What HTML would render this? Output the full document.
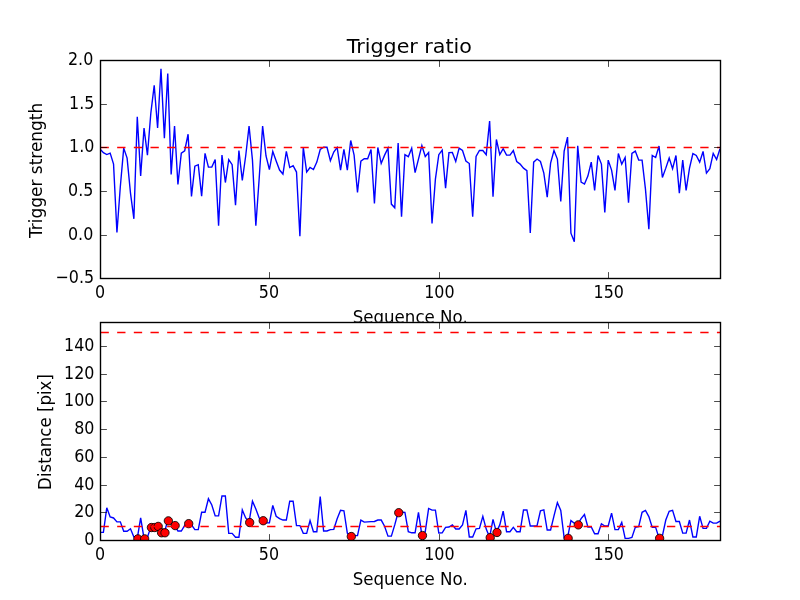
<!DOCTYPE html>
<html lang="en"><head><meta charset="utf-8"><title>Trigger ratio</title>
<style>html,body{margin:0;padding:0;background:#fff;}body{width:800px;height:600px;overflow:hidden;}svg{display:block;}text{font-family:"DejaVu Sans","Liberation Sans",sans-serif;fill:#000;}</style></head><body>
<svg width="800" height="600" viewBox="0 0 800 600">
<rect x="0" y="0" width="800" height="600" fill="#ffffff"/>
<defs><clipPath id="c1"><rect x="100" y="60" width="620" height="218.18"/></clipPath><clipPath id="c2"><rect x="100" y="321.82" width="620" height="218.18"/></clipPath></defs>
<g id="ax1">
<rect x="100" y="60" width="620" height="218.18" fill="#fff"/>
<g clip-path="url(#c1)">
<polyline points="100.00,149.02 103.39,152.68 106.78,154.52 110.16,153.12 113.55,164.12 116.94,232.54 120.33,186.54 123.72,148.14 127.10,158.09 130.49,193.09 133.88,218.84 137.27,116.73 140.66,176.07 144.04,128.07 147.43,155.13 150.82,113.24 154.21,85.31 157.60,128.07 160.98,68.73 164.37,138.11 167.76,73.53 171.15,174.50 174.54,126.06 177.92,184.54 181.31,153.12 184.70,150.76 188.09,134.18 191.48,196.49 194.86,166.12 198.25,164.73 201.64,196.14 205.03,153.38 208.42,167.08 211.80,167.08 215.19,159.49 218.58,225.82 221.97,155.13 225.36,182.53 228.74,159.66 232.13,164.73 235.52,205.13 238.91,150.50 242.30,180.44 245.68,156.00 249.07,126.06 252.46,160.10 255.85,225.82 259.23,177.82 262.62,126.06 266.01,156.00 269.40,169.53 272.79,151.46 276.17,161.06 279.56,170.05 282.95,174.06 286.34,151.46 289.73,167.52 293.11,165.69 296.50,172.06 299.89,236.11 303.28,147.27 306.67,172.06 310.05,167.52 313.44,169.53 316.83,162.11 320.22,149.45 323.61,147.27 326.99,147.27 330.38,160.71 333.77,152.07 337.16,147.45 340.55,170.05 343.93,149.45 347.32,170.05 350.71,140.46 354.10,155.13 357.49,192.48 360.87,161.06 364.26,158.70 367.65,158.70 371.04,149.45 374.43,203.48 377.81,147.45 381.20,163.50 384.59,155.13 387.98,148.14 391.37,204.09 394.75,207.75 398.14,143.08 401.53,216.74 404.92,154.69 408.31,156.70 411.69,148.14 415.08,172.67 418.47,159.05 421.86,145.53 425.25,156.52 428.63,152.51 432.02,223.55 435.41,179.13 438.80,154.69 442.19,150.06 445.57,188.12 448.96,152.68 452.35,152.51 455.74,161.50 459.13,148.14 462.51,150.50 465.90,161.06 469.29,163.50 472.68,216.74 476.07,156.52 479.45,150.50 482.84,150.50 486.23,154.69 489.62,121.09 493.01,196.76 496.39,139.50 499.78,154.69 503.17,148.67 506.56,155.13 509.95,155.13 513.33,150.50 516.72,161.50 520.11,164.12 523.50,168.13 526.89,170.66 530.27,233.06 533.66,162.11 537.05,159.05 540.44,161.50 543.83,173.10 547.21,197.10 550.60,163.07 553.99,150.50 557.38,159.05 560.77,201.56 564.15,151.11 567.54,137.06 570.93,233.15 574.32,241.79 577.70,145.70 581.09,182.18 584.48,184.10 587.87,176.07 591.26,162.11 594.64,190.47 598.03,155.48 601.42,164.12 604.81,212.55 608.20,160.10 611.58,170.05 614.97,190.47 618.36,153.47 621.75,164.12 625.14,157.48 628.52,202.69 631.91,153.47 635.30,151.11 638.69,160.10 642.08,160.10 645.46,189.16 648.85,229.13 652.24,155.48 655.63,157.48 659.02,146.05 662.40,177.47 665.79,168.13 669.18,158.09 672.57,168.65 675.96,155.48 679.34,193.09 682.73,160.10 686.12,190.47 689.51,168.13 692.90,153.64 696.28,155.48 699.67,162.11 703.06,151.46 706.45,173.10 709.84,168.65 713.22,153.47 716.61,159.49 720.00,148.67" fill="none" stroke="#0000ff" stroke-width="1.39" stroke-linejoin="miter" stroke-miterlimit="4" stroke-linecap="butt"/>
<line x1="100.5" y1="147.50" x2="720.5" y2="147.50" stroke="#ff0000" stroke-width="1.39" stroke-dasharray="8.33 8.33"/>
</g>
<path d="M100.50 278.50v-6.4M100.50 60.50v6.4M269.50 278.50v-6.4M269.50 60.50v6.4M439.50 278.50v-6.4M439.50 60.50v6.4M608.50 278.50v-6.4M608.50 60.50v6.4M100.50 278.50h6.4M720.50 278.50h-6.4M100.50 235.50h6.4M720.50 235.50h-6.4M100.50 191.50h6.4M720.50 191.50h-6.4M100.50 147.50h6.4M720.50 147.50h-6.4M100.50 104.50h6.4M720.50 104.50h-6.4M100.50 60.50h6.4M720.50 60.50h-6.4" stroke="#000" stroke-width="0.7" fill="none"/>
<rect x="100.5" y="60.5" width="620" height="218" fill="none" stroke="#000" stroke-width="1.39"/>
<text transform="translate(100.10 298.18) scale(0.955 1.068)" font-size="16.67" text-anchor="middle">0</text>
<text transform="translate(268.90 298.18) scale(0.955 1.068)" font-size="16.67" text-anchor="middle">50</text>
<text transform="translate(439.40 298.18) scale(0.955 1.068)" font-size="16.67" text-anchor="middle">100</text>
<text transform="translate(608.80 298.18) scale(0.955 1.068)" font-size="16.67" text-anchor="middle">150</text>
<text transform="translate(94.10 283.18) scale(0.955 1.068)" font-size="16.67" text-anchor="end">−0.5</text>
<text transform="translate(93.30 239.54) scale(0.955 1.068)" font-size="16.67" text-anchor="end">0.0</text>
<text transform="translate(93.40 195.91) scale(0.955 1.068)" font-size="16.67" text-anchor="end">0.5</text>
<text transform="translate(94.40 152.27) scale(0.955 1.068)" font-size="16.67" text-anchor="end">1.0</text>
<text transform="translate(94.40 108.64) scale(0.955 1.068)" font-size="16.67" text-anchor="end">1.5</text>
<text transform="translate(93.30 65.00) scale(0.955 1.068)" font-size="16.67" text-anchor="end">2.0</text>
<text transform="translate(409.30 52.70) scale(1.031 1)" font-size="20" text-anchor="middle">Trigger ratio</text>
<text transform="translate(410.20 323.00) scale(1 1.075)" font-size="16.67" text-anchor="middle">Sequence No.</text>
<text transform="translate(41.60 170.40) rotate(-90) scale(1.018 1.075)" font-size="16.67" text-anchor="middle">Trigger strength</text>
</g>
<g id="ax2">
<rect x="100" y="321.82" width="620" height="218.18" fill="#fff"/>
<g clip-path="url(#c2)">
<polyline points="100.00,532.38 103.39,532.38 106.78,507.72 110.16,516.87 113.55,517.97 116.94,521.85 120.33,521.85 123.72,531.27 127.10,531.27 130.49,528.78 133.88,536.95 137.27,538.48 140.66,517.97 144.04,538.48 147.43,537.23 150.82,527.12 154.21,527.12 157.60,526.01 160.98,532.38 164.37,532.38 167.76,520.47 171.15,523.38 174.54,525.18 177.92,531.00 181.31,531.00 184.70,525.45 188.09,523.24 191.48,524.76 194.86,529.61 198.25,529.61 201.64,512.29 205.03,512.29 208.42,498.72 211.80,504.95 215.19,515.90 218.58,515.90 221.97,495.95 225.36,495.95 228.74,533.35 232.13,533.35 235.52,537.23 238.91,537.23 242.30,509.94 245.68,517.97 249.07,522.13 252.46,501.21 255.85,508.97 259.23,517.97 262.62,520.33 266.01,522.82 269.40,522.82 272.79,505.37 276.17,516.31 279.56,518.67 282.95,520.05 286.34,520.05 289.73,501.21 293.11,501.21 296.50,525.59 299.89,525.59 303.28,533.35 306.67,533.35 310.05,520.47 313.44,531.69 316.83,531.69 320.22,496.64 323.61,531.00 326.99,531.00 330.38,529.61 333.77,529.33 337.16,518.67 340.55,510.36 343.93,510.77 347.32,533.07 350.71,536.12 354.10,535.57 357.49,535.57 360.87,520.05 364.26,522.13 367.65,521.85 371.04,521.58 374.43,521.44 377.81,520.05 381.20,520.05 384.59,526.29 387.98,536.12 391.37,536.12 394.75,524.90 398.14,512.29 401.53,512.29 404.92,512.43 408.31,531.69 411.69,532.80 415.08,532.80 418.47,512.43 421.86,535.15 425.25,531.69 428.63,508.42 432.02,510.08 435.41,510.08 438.80,533.07 442.19,532.80 445.57,527.39 448.96,526.98 452.35,524.90 455.74,529.06 459.13,529.06 462.51,524.90 465.90,510.36 469.29,536.95 472.68,536.95 476.07,528.78 479.45,528.36 482.84,516.31 486.23,529.06 489.62,537.23 493.01,519.36 496.39,532.10 499.78,524.90 503.17,511.05 506.56,531.69 509.95,531.69 513.33,527.39 516.72,531.69 520.11,531.69 523.50,509.94 526.89,509.94 530.27,526.01 533.66,526.01 537.05,525.59 540.44,510.77 543.83,509.94 547.21,530.03 550.60,530.03 553.99,515.90 557.38,502.60 560.77,510.36 564.15,537.92 567.54,537.92 570.93,520.61 574.32,523.24 577.70,524.48 581.09,518.67 584.48,514.51 587.87,526.98 591.26,526.98 594.64,533.77 598.03,533.77 601.42,523.79 604.81,526.01 608.20,526.01 611.58,513.13 614.97,529.61 618.36,529.61 621.75,522.41 625.14,538.34 628.52,538.34 631.91,537.51 635.30,527.39 638.69,526.56 642.08,512.29 645.46,510.36 648.85,516.59 652.24,527.39 655.63,527.39 659.02,537.92 662.40,535.84 665.79,520.05 669.18,511.32 672.57,510.36 675.96,521.44 679.34,521.44 682.73,533.07 686.12,533.07 689.51,520.05 692.90,536.95 696.28,536.95 699.67,516.31 703.06,528.36 706.45,528.36 709.84,521.16 713.22,523.10 716.61,523.10 720.00,521.16" fill="none" stroke="#0000ff" stroke-width="1.39" stroke-linejoin="miter" stroke-miterlimit="4" stroke-linecap="butt"/>
<circle cx="137.87" cy="538.88" r="4.17" fill="#ff0000" stroke="#000" stroke-width="0.85"/>
<circle cx="144.64" cy="538.88" r="4.17" fill="#ff0000" stroke="#000" stroke-width="0.85"/>
<circle cx="151.42" cy="527.52" r="4.17" fill="#ff0000" stroke="#000" stroke-width="0.85"/>
<circle cx="154.81" cy="527.52" r="4.17" fill="#ff0000" stroke="#000" stroke-width="0.85"/>
<circle cx="158.20" cy="526.41" r="4.17" fill="#ff0000" stroke="#000" stroke-width="0.85"/>
<circle cx="161.58" cy="532.78" r="4.17" fill="#ff0000" stroke="#000" stroke-width="0.85"/>
<circle cx="164.97" cy="532.78" r="4.17" fill="#ff0000" stroke="#000" stroke-width="0.85"/>
<circle cx="168.36" cy="520.87" r="4.17" fill="#ff0000" stroke="#000" stroke-width="0.85"/>
<circle cx="175.14" cy="525.58" r="4.17" fill="#ff0000" stroke="#000" stroke-width="0.85"/>
<circle cx="188.69" cy="523.64" r="4.17" fill="#ff0000" stroke="#000" stroke-width="0.85"/>
<circle cx="249.67" cy="522.53" r="4.17" fill="#ff0000" stroke="#000" stroke-width="0.85"/>
<circle cx="263.22" cy="520.73" r="4.17" fill="#ff0000" stroke="#000" stroke-width="0.85"/>
<circle cx="351.31" cy="536.52" r="4.17" fill="#ff0000" stroke="#000" stroke-width="0.85"/>
<circle cx="398.74" cy="512.69" r="4.17" fill="#ff0000" stroke="#000" stroke-width="0.85"/>
<circle cx="422.46" cy="535.55" r="4.17" fill="#ff0000" stroke="#000" stroke-width="0.85"/>
<circle cx="490.22" cy="537.63" r="4.17" fill="#ff0000" stroke="#000" stroke-width="0.85"/>
<circle cx="496.99" cy="532.50" r="4.17" fill="#ff0000" stroke="#000" stroke-width="0.85"/>
<circle cx="568.14" cy="538.32" r="4.17" fill="#ff0000" stroke="#000" stroke-width="0.85"/>
<circle cx="578.30" cy="524.88" r="4.17" fill="#ff0000" stroke="#000" stroke-width="0.85"/>
<circle cx="659.62" cy="538.32" r="4.17" fill="#ff0000" stroke="#000" stroke-width="0.85"/>
<line x1="100.5" y1="526.50" x2="720.5" y2="526.50" stroke="#ff0000" stroke-width="1.39" stroke-dasharray="8.33 8.33"/>
<line x1="100.5" y1="332.50" x2="720.5" y2="332.50" stroke="#ff0000" stroke-width="1.39" stroke-dasharray="8.33 8.33"/>
</g>
<path d="M100.50 540.50v-6.4M100.50 322.50v6.4M269.50 540.50v-6.4M269.50 322.50v6.4M439.50 540.50v-6.4M439.50 322.50v6.4M608.50 540.50v-6.4M608.50 322.50v6.4M100.50 540.50h6.4M720.50 540.50h-6.4M100.50 512.50h6.4M720.50 512.50h-6.4M100.50 485.50h6.4M720.50 485.50h-6.4M100.50 457.50h6.4M720.50 457.50h-6.4M100.50 429.50h6.4M720.50 429.50h-6.4M100.50 401.50h6.4M720.50 401.50h-6.4M100.50 374.50h6.4M720.50 374.50h-6.4M100.50 346.50h6.4M720.50 346.50h-6.4" stroke="#000" stroke-width="0.7" fill="none"/>
<rect x="100.5" y="322.5" width="620" height="218" fill="none" stroke="#000" stroke-width="1.39"/>
<text transform="translate(100.10 560.00) scale(0.955 1.068)" font-size="16.67" text-anchor="middle">0</text>
<text transform="translate(268.90 560.00) scale(0.955 1.068)" font-size="16.67" text-anchor="middle">50</text>
<text transform="translate(439.40 560.00) scale(0.955 1.068)" font-size="16.67" text-anchor="middle">100</text>
<text transform="translate(608.80 560.00) scale(0.955 1.068)" font-size="16.67" text-anchor="middle">150</text>
<text transform="translate(94.40 545.00) scale(0.955 1.068)" font-size="16.67" text-anchor="end">0</text>
<text transform="translate(94.40 517.29) scale(0.955 1.068)" font-size="16.67" text-anchor="end">20</text>
<text transform="translate(94.40 489.59) scale(0.955 1.068)" font-size="16.67" text-anchor="end">40</text>
<text transform="translate(94.40 461.88) scale(0.955 1.068)" font-size="16.67" text-anchor="end">60</text>
<text transform="translate(94.40 434.18) scale(0.955 1.068)" font-size="16.67" text-anchor="end">80</text>
<text transform="translate(94.40 406.47) scale(0.955 1.068)" font-size="16.67" text-anchor="end">100</text>
<text transform="translate(94.40 378.77) scale(0.955 1.068)" font-size="16.67" text-anchor="end">120</text>
<text transform="translate(94.40 351.06) scale(0.955 1.068)" font-size="16.67" text-anchor="end">140</text>
<text transform="translate(410.20 585.00) scale(1 1.075)" font-size="16.67" text-anchor="middle">Sequence No.</text>
<text transform="translate(50.70 432.00) rotate(-90) scale(0.996 1.075)" font-size="16.67" text-anchor="middle">Distance [pix]</text>
</g>
</svg></body></html>
